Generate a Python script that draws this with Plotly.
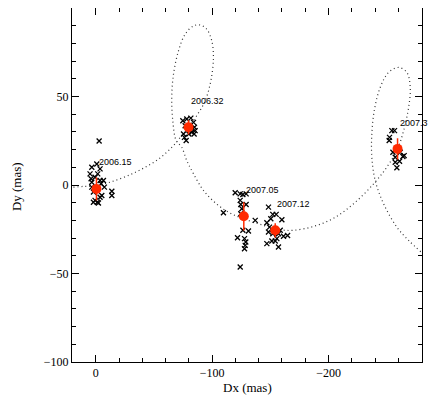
import plotly.graph_objects as go

# epochs: mean positions with error bars
ep_dx = [-0.6, -79.7, -127.2, -154.2, -259.3]
ep_dy = [-2.2, 32.6, -17.7, -25.6, 20.4]
ep_err = [6.5, 4.0, 8.0, 4.0, 6.0]
ep_names = ["2006.15", "2006.32", "2007.05", "2007.12", "2007.37"]
lab_dx = [-0.9, -79.7, -127.5, -154.4, -259.6]
lab_dy = [12.9, 47.6, -3.1, -10.6, 35.2]

# individual measurements
obs_dx = [-2.9, 3.4, 4.9, 4.0, 3.4, -0.9, -3.7, 0.6, -3.7, -6.6, -7.4, -5.2, -3.7,
          0.6, 2.0, -1.4, -2.3, -13.8, -13.8, 2.0, 3.4, -1.7, -4.6,
          -74.8, -78.2, -81.7, -84.0, -76.8, -75.4, -76.2, -77.7, -82.5, -84.5, -85.4,
          -84.8, -80.0, -82.5,
          -119.8, -124.1, -126.4, -129.2, -124.1, -124.6, -129.2, -125.5, -124.6,
          -126.4, -131.2, -121.8, -127.8, -128.9, -128.4, -127.8, -124.1, -109.7, -137.0,
          -148.4, -150.4, -152.1, -155.0, -147.0, -149.3, -148.4, -152.1, -157.0, -158.5,
          -159.9, -161.3, -164.8, -155.6, -154.2, -147.0, -151.3, -157.0,
          -254.4, -256.7, -252.4, -252.1, -255.3, -257.3, -257.3, -261.0, -263.9, -265.0,
          -261.6, -258.7]
obs_dy = [24.9, 10.0, 6.3, 3.5, 1.6, 11.9, 9.1, 4.4, 2.5, 2.5, -1.2, -5.9, -6.9,
          -8.7, -9.7, -9.7, -10.2, -3.5, -5.9, -4.0, -1.2, 6.3, 0.7,
          36.3, 37.3, 37.8, 35.4, 33.5, 28.8, 26.9, 25.1, 29.8, 28.8, 30.7,
          32.6, 28.8, 31.6,
          -4.4, -5.0, -5.4, -5.0, -8.7, -11.0, -11.0, -13.4, -16.2,
          -25.6, -26.0, -29.8, -30.3, -32.2, -34.1, -36.0, -46.3, -15.7, -20.0,
          -12.5, -19.1, -16.6, -16.6, -21.3, -23.8, -26.6, -27.5, -27.5, -25.6,
          -19.6, -29.0, -28.5, -30.3, -31.6, -33.1, -31.6, -35.0,
          30.7, 30.7, 26.9, 25.1, 18.5, 15.7, 12.9, 13.4, 16.1, 16.6,
          18.5, 9.7]

# model path (parallax + proper motion)
path_dx = [19.2, 10.6, 0.0, -12.3, -26.6, -41.0, -55.3, -66.8, -73.9, -79.7, -86.8,
           -94.0, -98.9, -101.1, -99.7, -95.4, -89.7, -84.0, -76.8, -71.1, -66.8,
           -65.3, -66.2, -69.1, -73.9, -78.2, -84.0, -92.6, -104.0, -115.5, -127.2,
           -144.1, -158.5, -169.9, -187.1, -204.3, -221.5, -238.5, -250.0, -259.3,
           -264.5, -268.8, -270.2, -267.3, -260.2, -251.6, -244.4, -239.3, -237.2,
           -237.2, -240.1, -247.3, -258.7, -268.8, -279.4]
path_dy = [-1.2, -0.8, -0.5, 1.6, 5.0, 9.5, 15.3, 22.3, 27.9, 32.6, 39.2,
           47.6, 58.9, 72.0, 81.4, 88.0, 90.4, 89.9, 85.2, 75.8, 62.6,
           49.5, 36.3, 25.1, 21.3, 13.8, 6.3, -3.1, -10.8, -15.9, -19.1,
           -22.8, -25.3, -25.6, -23.4, -18.8, -10.6, 0.5, 10.0, 20.4,
           30.7, 43.8, 55.1, 63.6, 66.4, 63.6, 55.1, 42.0, 28.8,
           15.7, 2.5, -10.6, -23.8, -31.3, -37.8]

fig = go.Figure()
fig.add_trace(go.Scatter(x=path_dx, y=path_dy, mode="lines", line_shape="spline",
                         line=dict(color="#333333", width=1.2, dash="1px,3px"),
                         hoverinfo="skip"))
fig.add_trace(go.Scatter(x=obs_dx, y=obs_dy, mode="markers",
                         marker=dict(symbol="x-thin", size=5, color="black",
                                     line=dict(color="black", width=1.3))))
fig.add_trace(go.Scatter(x=ep_dx, y=ep_dy, mode="markers",
                         error_y=dict(type="data", array=ep_err, color="#ff2a00",
                                      thickness=1.5, width=0),
                         marker=dict(symbol="circle", size=10, color="#ff2a00")))

for n, x, y in zip(ep_names, lab_dx, lab_dy):
    fig.add_annotation(x=x, y=y, text=n, showarrow=False, xanchor="left",
                       yanchor="middle", font=dict(family="Liberation Sans", size=9,
                                                   color="black"))

# axis titles placed by hand
title_font = dict(family="Liberation Serif", size=13, color="black")
fig.add_annotation(x=0.5, y=-0.073, xref="paper", yref="paper", text="Dx (mas)",
                   showarrow=False, xanchor="center", yanchor="middle", font=title_font)
fig.add_annotation(x=-0.16, y=0.494, xref="paper", yref="paper", text="Dy (mas)",
                   showarrow=False, textangle=-90, xanchor="center", yanchor="middle",
                   font=title_font)

ax = dict(showline=True, linecolor="black", linewidth=1, mirror="allticks",
          ticks="inside", ticklen=7, tickcolor="black", showgrid=False,
          zeroline=False, automargin=False,
          tickfont=dict(family="Liberation Serif", size=12, color="black"))
fig.update_xaxes(**ax, range=[20.4, -280.3], autorange=False, dtick=100, tick0=0,
                 minor=dict(ticks="inside", ticklen=4, dtick=20, tickcolor="black"))
fig.update_yaxes(**ax, range=[-100, 100], dtick=50,
                 minor=dict(ticks="inside", ticklen=4, dtick=10, tickcolor="black"))
# page body adds an 8px offset, so the figure is 8px smaller than the window
fig.update_layout(width=428, height=388, showlegend=False,
                  margin=dict(l=64, r=14, t=0, b=34),
                  plot_bgcolor="white", paper_bgcolor="white")
fig.write_html("out.html")
